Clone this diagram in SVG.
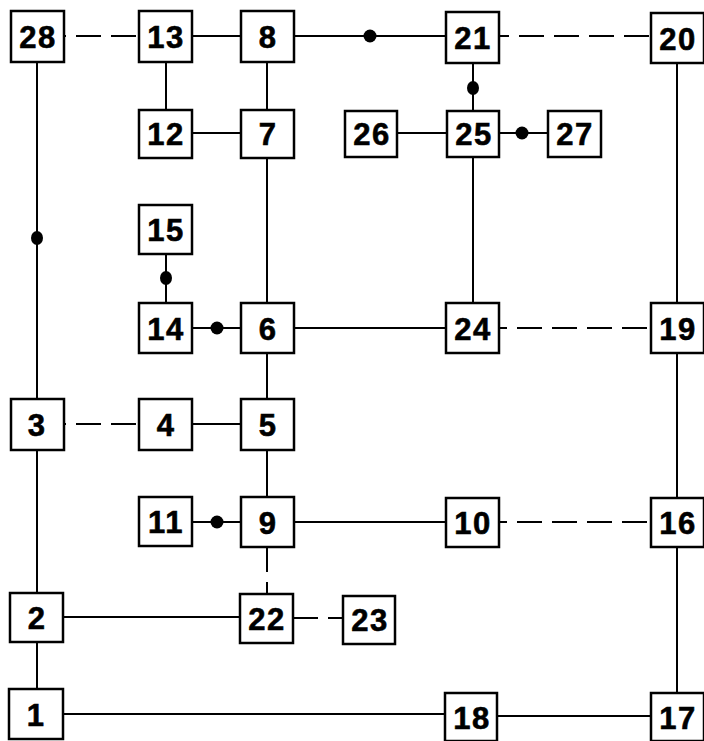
<svg xmlns="http://www.w3.org/2000/svg" width="704" height="741" viewBox="0 0 704 741">
<style>
.b{fill:#fff;stroke:#000;stroke-width:2.5}
.t{font-family:"Liberation Sans",Arial,sans-serif;font-weight:bold;font-size:31px;text-anchor:middle;fill:#000;stroke:#000;stroke-width:0.6;letter-spacing:1.5px}
.s{stroke:#000;stroke-width:2;fill:none}
.d{stroke:#000;stroke-width:2;fill:none;stroke-dasharray:25 10}
.dot{fill:#000}
</style>
<rect width="704" height="741" fill="#fff"/>
<g id="connectors">
<line class="d" x1="64" y1="36" x2="139" y2="36" stroke-dashoffset="-12"/>
<line class="s" x1="192" y1="36" x2="241" y2="36"/>
<line class="s" x1="294" y1="36" x2="446" y2="36"/>
<circle class="dot" cx="370" cy="36" r="6.5"/>
<line class="d" x1="499" y1="36" x2="651" y2="36" stroke-dashoffset="-20"/>
<line class="s" x1="37" y1="62" x2="37" y2="399"/>
<ellipse class="dot" cx="37" cy="238" rx="6" ry="7"/>
<line class="s" x1="166" y1="62" x2="166" y2="110"/>
<line class="s" x1="267" y1="62" x2="267" y2="110"/>
<line class="s" x1="192" y1="133" x2="241" y2="133"/>
<line class="s" x1="473" y1="62" x2="473" y2="111"/>
<ellipse class="dot" cx="473" cy="88" rx="6" ry="7"/>
<line class="s" x1="397" y1="133" x2="447" y2="133"/>
<line class="s" x1="499" y1="133" x2="548" y2="133"/>
<circle class="dot" cx="522" cy="133" r="6.5"/>
<line class="s" x1="267" y1="158" x2="267" y2="303"/>
<line class="s" x1="473" y1="157" x2="473" y2="303"/>
<line class="s" x1="677" y1="63" x2="677" y2="303"/>
<line class="s" x1="166" y1="254" x2="166" y2="303"/>
<ellipse class="dot" cx="166" cy="278" rx="6" ry="7"/>
<line class="s" x1="192" y1="328" x2="241" y2="328"/>
<circle class="dot" cx="217" cy="328" r="6.5"/>
<line class="s" x1="294" y1="328" x2="446" y2="328"/>
<line class="d" x1="499" y1="328" x2="651" y2="328" stroke-dashoffset="-18"/>
<line class="s" x1="267" y1="353" x2="267" y2="399"/>
<line class="d" x1="64" y1="424" x2="139" y2="424" stroke-dashoffset="-12"/>
<line class="s" x1="192" y1="424" x2="241" y2="424"/>
<line class="s" x1="37" y1="450" x2="37" y2="593"/>
<line class="s" x1="267" y1="450" x2="267" y2="497"/>
<line class="s" x1="677" y1="353" x2="677" y2="498"/>
<line class="s" x1="192" y1="522" x2="241" y2="522"/>
<circle class="dot" cx="217" cy="522" r="6.5"/>
<line class="s" x1="294" y1="522" x2="446" y2="522"/>
<line class="d" x1="499" y1="522" x2="651" y2="522" stroke-dashoffset="-18"/>
<line class="d" x1="267" y1="547" x2="267" y2="594" stroke-dasharray="20 7"/>
<line class="s" x1="677" y1="547" x2="677" y2="693"/>
<line class="s" x1="63" y1="617" x2="240" y2="617"/>
<line class="d" x1="293" y1="618" x2="343" y2="618" stroke-dasharray="10 11"/>
<line class="s" x1="37" y1="642" x2="37" y2="689"/>
<line class="s" x1="63" y1="714" x2="445" y2="714"/>
<line class="s" x1="497" y1="716" x2="651" y2="716"/>
</g>
<g id="n28"><rect class="b" x="11" y="11" width="53" height="51"/><text class="t" x="38" y="48">28</text></g>
<g id="n13"><rect class="b" x="139" y="11" width="53" height="51"/><text class="t" x="166" y="48">13</text></g>
<g id="n8"><rect class="b" x="241" y="11" width="53" height="51"/><text class="t" x="268" y="48">8</text></g>
<g id="n21"><rect class="b" x="446" y="12" width="53" height="51"/><text class="t" x="473" y="49">21</text></g>
<g id="n20"><rect class="b" x="651" y="13" width="53" height="50"/><text class="t" x="678" y="50">20</text></g>
<g id="n12"><rect class="b" x="139" y="110" width="53" height="48"/><text class="t" x="166" y="145">12</text></g>
<g id="n7"><rect class="b" x="241" y="110" width="53" height="48"/><text class="t" x="268" y="145">7</text></g>
<g id="n26"><rect class="b" x="345" y="111" width="52" height="46"/><text class="t" x="372" y="145">26</text></g>
<g id="n25"><rect class="b" x="447" y="111" width="52" height="46"/><text class="t" x="474" y="145">25</text></g>
<g id="n27"><rect class="b" x="548" y="111" width="53" height="46"/><text class="t" x="575" y="145">27</text></g>
<g id="n15"><rect class="b" x="139" y="205" width="53" height="49"/><text class="t" x="166" y="241">15</text></g>
<g id="n14"><rect class="b" x="139" y="303" width="53" height="50"/><text class="t" x="166" y="340">14</text></g>
<g id="n6"><rect class="b" x="241" y="303" width="53" height="50"/><text class="t" x="268" y="340">6</text></g>
<g id="n24"><rect class="b" x="446" y="303" width="53" height="50"/><text class="t" x="473" y="340">24</text></g>
<g id="n19"><rect class="b" x="651" y="303" width="53" height="50"/><text class="t" x="678" y="340">19</text></g>
<g id="n3"><rect class="b" x="11" y="399" width="53" height="51"/><text class="t" x="37" y="436">3</text></g>
<g id="n4"><rect class="b" x="139" y="399" width="53" height="51"/><text class="t" x="166" y="436">4</text></g>
<g id="n5"><rect class="b" x="241" y="399" width="53" height="51"/><text class="t" x="268" y="436">5</text></g>
<g id="n11"><rect class="b" x="139" y="497" width="53" height="49"/><text class="t" x="166" y="533">11</text></g>
<g id="n9"><rect class="b" x="241" y="497" width="53" height="50"/><text class="t" x="268" y="534">9</text></g>
<g id="n10"><rect class="b" x="446" y="498" width="53" height="49"/><text class="t" x="473" y="534">10</text></g>
<g id="n16"><rect class="b" x="651" y="498" width="53" height="49"/><text class="t" x="678" y="534">16</text></g>
<g id="n2"><rect class="b" x="10" y="593" width="53" height="49"/><text class="t" x="37" y="629">2</text></g>
<g id="n22"><rect class="b" x="240" y="594" width="53" height="49"/><text class="t" x="267" y="630">22</text></g>
<g id="n23"><rect class="b" x="343" y="596" width="52" height="48"/><text class="t" x="370" y="631">23</text></g>
<g id="n1"><rect class="b" x="9" y="689" width="54" height="50"/><text class="t" x="36" y="726">1</text></g>
<g id="n18"><rect class="b" x="445" y="693" width="52" height="48"/><text class="t" x="472" y="729">18</text></g>
<g id="n17"><rect class="b" x="651" y="693" width="53" height="48"/><text class="t" x="678" y="729">17</text></g>
</svg>
